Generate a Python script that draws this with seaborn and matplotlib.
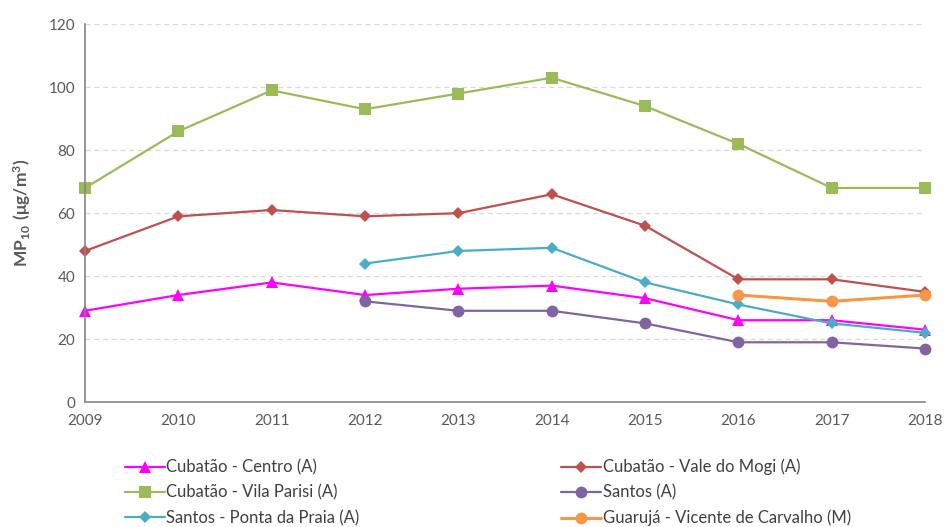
import pandas as pd
import matplotlib.pyplot as plt
import seaborn as sns
from matplotlib.lines import Line2D

years = [2009, 2010, 2011, 2012, 2013, 2014, 2015, 2016, 2017, 2018]
centro = [29, 34, 38, 34, 36, 37, 33, 26, 26, 23]
vale_mogi = [48, 59, 61, 59, 60, 66, 56, 39, 39, 35]
vila_parisi = [68, 86, 99, 93, 98, 103, 94, 82, 68, 68]
santos = [None, None, None, 32, 29, 29, 25, 19, 19, 17]
ponta_praia = [None, None, None, 44, 48, 49, 38, 31, 25, 22]
guaruja = [None, None, None, None, None, None, None, 34, 32, 34]

series = [
    ('Cubatão - Centro (A)', centro, '#FF00FF', '^', 8, 1.6),
    ('Cubatão - Vale do Mogi (A)', vale_mogi, '#C0504D', 'D', 6, 1.6),
    ('Cubatão - Vila Parisi (A)', vila_parisi, '#9BBB59', 's', 8, 1.6),
    ('Santos (A)', santos, '#8064A2', 'o', 8.5, 1.6),
    ('Santos - Ponta da Praia (A)', ponta_praia, '#4BACC6', 'D', 6, 1.6),
    ('Guarujá - Vicente de Carvalho (M)', guaruja, '#F79646', 'o', 8.5, 2.2),
]

sns.set_style('white')
plt.rcParams['font.family'] = ['Lato', 'DejaVu Sans']
plt.rcParams['mathtext.fontset'] = 'custom'
plt.rcParams['mathtext.bf'] = 'Lato:bold'
plt.rcParams['mathtext.rm'] = 'Lato:bold'

fig, ax = plt.subplots(figsize=(9.45, 5.27), dpi=100)
fig.subplots_adjust(left=0.09, right=0.979, top=0.954, bottom=0.237)

handles = {}
for name, vals, color, mk, ms, lw in series:
    df = pd.DataFrame({'ano': years, 'valor': vals}).dropna()
    sns.lineplot(data=df, x='ano', y='valor', ax=ax, color=color, marker=mk,
                 markersize=ms, markeredgewidth=0, linewidth=lw, clip_on=False)
    handles[name] = Line2D([], [], color=color, marker=mk, markersize=ms,
                           markeredgewidth=0, linewidth=lw)

ax.set_xlim(2009, 2018)
ax.set_ylim(0, 120)
ax.set_xticks(years)
ax.set_yticks(range(0, 121, 20))
ax.yaxis.grid(True, color='#D9D9D9', linestyle=(0, (4, 3)), linewidth=0.9)
ax.set_axisbelow(True)
for s in ['top', 'right']:
    ax.spines[s].set_visible(False)
for s in ['left', 'bottom']:
    ax.spines[s].set_color('#868686')
    ax.spines[s].set_linewidth(1.2)
ax.tick_params(axis='both', colors='#868686', labelcolor='#595959',
               labelsize=11, length=5, width=1, direction='out')
ax.tick_params(axis='y', pad=2)
ax.set_xlabel('')
ax.set_ylabel(r'$\mathbf{MP_{10}\ (\mu g/m^3)}$', fontsize=12.5,
              color='#595959', labelpad=11)

order = ['Cubatão - Centro (A)', 'Cubatão - Vila Parisi (A)',
         'Santos - Ponta da Praia (A)', 'Cubatão - Vale do Mogi (A)',
         'Santos (A)', 'Guarujá - Vicente de Carvalho (M)']
leg = fig.legend([handles[n] for n in order], order, ncol=2,
                 loc='upper left', bbox_to_anchor=(0.125, 0.142),
                 frameon=False, fontsize=12, handlelength=2.4,
                 handletextpad=0.1, columnspacing=12.1, labelspacing=0.55,
                 borderaxespad=0)
for t in leg.get_texts():
    t.set_color('#404040')

fig.savefig('out.png', dpi=100)
